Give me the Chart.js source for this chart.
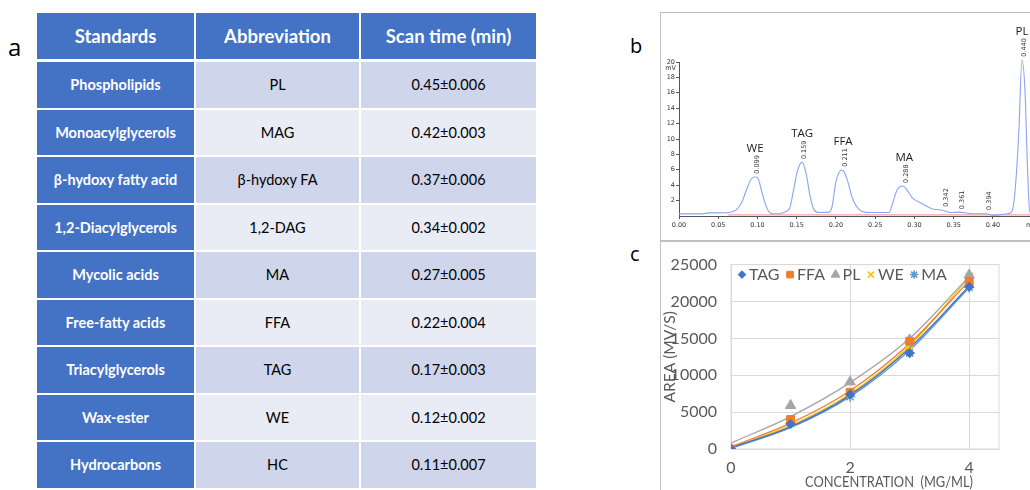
<!DOCTYPE html>
<html><head><meta charset="utf-8">
<script src="https://cdn.jsdelivr.net/npm/chart.js@4.4.0/dist/chart.umd.min.js"></script>
<style>
html,body{margin:0;padding:0;background:#fff;width:1030px;height:490px;overflow:hidden;position:relative;font-family:Lato,"Open Sans",sans-serif;}
.lbl{position:absolute;font-family:"Open Sans",Lato,sans-serif;color:#000;}
#tbl{position:absolute;left:37px;top:13px;}
.cell{position:absolute;display:flex;align-items:center;justify-content:center;box-sizing:border-box;}
.box{position:absolute;border:1.5px solid #BFBFBF;box-sizing:border-box;}
canvas{position:absolute;}
</style></head>
<body>
<div class="lbl" style="left:8px;top:30px;font-size:24px;">a</div>
<div class="lbl" style="left:630px;top:32px;font-size:20px;">b</div>
<div class="lbl" style="left:630px;top:240px;font-size:20px;">c</div>
<div id="tbl"></div>
<div class="box" style="left:660px;top:12px;width:400px;height:230px;"></div>
<div class="box" style="left:660px;top:240px;width:400px;height:260px;"></div>
<div style="position:absolute;left:660px;top:12px;width:400px;height:228px;"><canvas id="chromCanvas"></canvas></div>
<div style="position:absolute;left:661px;top:241px;width:369px;height:249px;"><canvas id="calCanvas"></canvas></div>
<script>
// ---------- Table (panel a) ----------
const tableHeaders = ["Standards", "Abbreviation", "Scan time (min)"];
const standards = ["Phospholipids","Monoacylglycerols","β-hydoxy fatty acid","1,2-Diacylglycerols","Mycolic acids","Free-fatty acids","Triacylglycerols","Wax-ester","Hydrocarbons"];
const abbreviations = ["PL","MAG","β-hydoxy FA","1,2-DAG","MA","FFA","TAG","WE","HC"];
const scanTimes = ["0.45±0.006","0.42±0.003","0.37±0.006","0.34±0.002","0.27±0.005","0.22±0.004","0.17±0.003","0.12±0.002","0.11±0.007"];

// ---------- Chromatogram (panel b) ----------
const chromTime   = [0.000,0.030,0.038,0.060,0.068,0.074,0.080,0.086,0.092,0.097,0.101,0.107,0.113,0.119,0.128,0.134,0.141,0.146,0.151,0.157,0.162,0.167,0.172,0.179,0.191,0.195,0.200,0.207,0.210,0.215,0.221,0.229,0.242,0.268,0.272,0.278,0.285,0.289,0.297,0.310,0.323,0.336,0.346,0.357,0.374,0.391,0.400,0.416,0.424,0.428,0.433,0.437,0.441,0.444,0.447,0.455];
const chromSignal = [0.27,0.28,0.40,0.42,0.55,0.9,1.8,3.4,4.8,5.1,4.8,2.6,0.8,0.3,0.3,0.5,1.0,3.4,5.9,7.0,5.5,2.6,0.8,0.45,0.5,1.2,4.5,5.95,5.8,4.5,2.3,0.9,0.45,0.45,1.6,3.4,3.9,3.6,2.4,1.6,0.9,0.75,0.45,0.5,0.3,0.3,0.1,0.25,0.55,3.0,10.8,20.3,16.0,6.5,0.5,0.3];
const baselineTime = [0.062, 0.46];
const baselineSignal = [0.15, 0.15];
const peakNames   = ["WE","TAG","FFA","MA","PL"];
const peakTimes   = [0.097,0.157,0.209,0.287,0.437];
const peakHeights = [5.1,7.0,6.0,3.9,20.3];
const rtLabels  = ["0.099","0.159","0.211","0.288","0.342","0.361","0.394","0.440"];
const rtTimes   = [0.097,0.157,0.209,0.287,0.338,0.358,0.392,0.437];
const rtHeights = [5.1,7.0,6.0,3.9,0.8,0.5,0.4,20.3];

// ---------- Calibration (panel c) ----------
const concentrations = [0,1,2,3,4];
const seriesNames = ["TAG","FFA","PL","WE","MA"];
const tagArea = [0,3400,7400,13000,22000];
const ffaArea = [0,4000,7700,14600,22700];
const plArea  = [0,5900,9100,14800,23600];
const weArea  = [0,3600,7500,13500,23400];
const maArea  = [0,3500,7100,13000,21900];
// trendline values at each concentration
const tagTrend = [200,3000,7300,13700,22100];
const ffaTrend = [300,3500,7900,14300,22800];
const plTrend  = [800,4400,9000,15000,23400];
const weTrend  = [200,3200,7500,14000,23300];
const maTrend  = [100,2900,7100,13400,21900];
const xTicks = [0,2,4];
const yTicks = [0,5000,10000,15000,20000,25000];

const NARROW = '"Liberation Sans Narrow", "Arial Narrow", Lato, sans-serif';

// build table
(function(){
  const t = document.getElementById('tbl');
  const colX = [0,159,324], colW = [159,165,175];
  const headH = 46, rowTop0 = 49, rowH = 47.5;
  tableHeaders.forEach((h,i)=>{
    const d=document.createElement('div');d.className='cell';
    d.style.cssText=`left:${colX[i]}px;top:0;width:${colW[i]}px;height:${headH}px;background:#4472C4;color:#fff;font-weight:700;font-size:18.5px;border-right:${i<2?2:0}px solid #fff;`;
    d.textContent=h;t.appendChild(d);
  });
  standards.forEach((s,r)=>{
    const vals=[s,abbreviations[r],scanTimes[r]];
    const bg = r%2===0 ? '#CFD5EA' : '#E9EBF5';
    vals.forEach((v,i)=>{
      const d=document.createElement('div');d.className='cell';
      const st = i===0 ? 'background:#4472C4;color:#fff;font-weight:700;' : `background:${bg};color:#000;`;
      d.style.cssText=`left:${colX[i]}px;top:${rowTop0+r*rowH}px;width:${colW[i]}px;height:${rowH}px;${st}font-size:14.5px;border-right:${i<2?2:0}px solid #fff;border-bottom:2px solid #fff;`;
      d.textContent=v;t.appendChild(d);
    });
  });
})();

// chromatogram
const chromData = chromTime.map((t,i)=>({x:t,y:chromSignal[i]}));
const baseData = baselineTime.map((t,i)=>({x:t,y:baselineSignal[i]}));
const chromLabels = {
  id:'chromLabels',
  afterDatasetsDraw(chart){
    const {ctx, scales:{x,y}} = chart;
    ctx.save();
    ctx.fillStyle='#222';
    ctx.font='11.5px "Open Sans", Lato, sans-serif';
    ctx.textAlign='center';ctx.textBaseline='alphabetic';
    peakNames.forEach((n,i)=>{
      ctx.fillText(n, x.getPixelForValue(peakTimes[i]), y.getPixelForValue(peakHeights[i]) - 25);
    });
    ctx.font='6.5px "DejaVu Sans", sans-serif';ctx.fillStyle='#333';
    rtLabels.forEach((l,i)=>{
      ctx.save();
      ctx.translate(x.getPixelForValue(rtTimes[i])+2.5, y.getPixelForValue(rtHeights[i]) - 3);
      ctx.rotate(-Math.PI/2);
      ctx.textAlign='left';ctx.textBaseline='middle';
      ctx.fillText(l,0,0);
      ctx.restore();
    });
    ctx.font='6.5px "DejaVu Sans", sans-serif';ctx.textAlign='right';
    ctx.fillText('mV', x.left-3, y.getPixelForValue(20)+8);
    ctx.restore();
  }
};
new Chart(document.getElementById('chromCanvas'),{
  type:'line',
  data:{datasets:[
    {data:chromData,borderColor:'#8AA3F5',borderWidth:1.1,pointRadius:0,cubicInterpolationMode:'monotone',clip:false,fill:false},
    {data:baseData,borderColor:'rgba(240,130,130,0.75)',borderWidth:1.2,pointRadius:0,fill:false}
  ]},
  options:{
    responsive:true,maintainAspectRatio:false,animation:false,
    layout:{padding:{top:50,right:20,left:0,bottom:0}},
    plugins:{legend:{display:false},tooltip:{enabled:false}},
    scales:{
      x:{type:'linear',min:0,max:0.46,
        afterBuildTicks:s=>{s.ticks=[0,0.05,0.1,0.15,0.2,0.25,0.3,0.35,0.4,0.45].map(v=>({value:v}));},
        afterFit:s=>{s.height=24;},
        grid:{drawOnChartArea:false,tickLength:3,color:'#555'},
        border:{color:'#555',width:1},
        ticks:{font:{size:6.5,family:'"DejaVu Sans", sans-serif'},color:'#333',maxRotation:0,padding:2,
          callback:v=> v>0.42 ? 'min' : v.toFixed(2)}},
      y:{type:'linear',min:0,max:20,
        afterBuildTicks:s=>{s.ticks=[2,4,6,8,10,12,14,16,18,20].map(v=>({value:v}));},
        afterFit:s=>{s.width=19;},
        grid:{drawOnChartArea:false,tickLength:3,color:'#555'},
        border:{color:'#555',width:1},
        ticks:{font:{size:6.5,family:'"DejaVu Sans", sans-serif'},color:'#333',padding:1}}
    }
  },
  plugins:[chromLabels]
});

// calibration chart
const colors = {TAG:'#4472C4',FFA:'#ED7D31',PL:'#A5A5A5',WE:'#FFC000',MA:'#5B9BD5'};
const styles = {TAG:['rectRot',4.5],FFA:['rect',5.5],PL:['triangle',6],WE:['crossRot',5],MA:['star',5]};
const areas = [tagArea,ffaArea,plArea,weArea,maArea];
const trends = [tagTrend,ffaTrend,plTrend,weTrend,maTrend];
const calDatasets = [];
seriesNames.forEach((n,i)=>{
  calDatasets.push({type:'line',label:n+' trend',data:concentrations.map((c,j)=>({x:c,y:trends[i][j]})),
    borderColor:colors[n],borderWidth:1.3,pointRadius:0,cubicInterpolationMode:'monotone',fill:false,order:2});
});
seriesNames.forEach((n,i)=>{
  calDatasets.push({type:'scatter',label:n,data:concentrations.map((c,j)=>({x:c,y:areas[i][j]})),
    pointStyle:styles[n][0],pointRadius:styles[n][1],backgroundColor:colors[n],borderColor:colors[n],borderWidth:n==='WE'||n==='MA'?1.5:1,order:1});
});
const calExtras = {
  id:'calExtras',
  beforeDatasetsDraw(chart){
    const {ctx,chartArea:a}=chart;
    ctx.save();ctx.strokeStyle='#D9D9D9';ctx.lineWidth=1;
    ctx.strokeRect(a.left,a.top,a.right-a.left,a.bottom-a.top);ctx.restore();
  },
  afterDraw(chart){
    const {ctx,chartArea:a}=chart;
    ctx.save();
    ctx.font='16px '+NARROW;ctx.textBaseline='middle';ctx.textAlign='left';
    let xx=a.left+11; const yy=a.top+10;
    seriesNames.forEach(n=>{
      const ds = chart.data.datasets.find(d=>d.label===n);
      ctx.fillStyle=colors[n];ctx.strokeStyle=colors[n];ctx.lineWidth=ds.borderWidth;
      Chart.helpers.drawPoint(ctx,{pointStyle:styles[n][0],radius:styles[n][1]*0.85,borderWidth:ds.borderWidth},xx,yy);
      ctx.fillStyle='#595959';ctx.textAlign='left';
      ctx.fillText(n,xx+7,yy);
      xx += 7 + ctx.measureText(n).width + 10.5;
    });
    // x-axis title: condensed face as in the reference, slightly right of centre
    ctx.textAlign='center';ctx.textBaseline='alphabetic';ctx.fillStyle='#595959';
    ctx.font='16px '+NARROW;
    const w = ctx.measureText('CONCENTRATION  (MG/ML)').width;
    const sx = Math.min(1, 168 / w);
    ctx.translate((a.left+a.right)/2+24, chart.height-3);
    ctx.scale(sx,1);
    ctx.fillText('CONCENTRATION  (MG/ML)', 0, 0);
    ctx.restore();
  }
};
new Chart(document.getElementById('calCanvas'),{
  data:{datasets:calDatasets},
  options:{
    responsive:true,maintainAspectRatio:false,animation:false,
    layout:{padding:{top:14,right:31,left:0,bottom:0}},
    plugins:{legend:{display:false},tooltip:{enabled:false}},
    scales:{
      x:{type:'linear',min:0,max:4.5,
        afterBuildTicks:s=>{s.ticks=xTicks.map(v=>({value:v}));},
        afterFit:s=>{s.height=41;},
        grid:{color:'#D9D9D9',drawTicks:false},border:{color:'#D9D9D9'},
        ticks:{font:{size:16,family:NARROW},color:'#595959',padding:9,callback:v=>String(v)}},
      y:{type:'linear',min:0,max:25000,
        afterBuildTicks:s=>{s.ticks=yTicks.map(v=>({value:v}));},
        afterFit:s=>{s.width=70;},
        grid:{color:'#D9D9D9',drawTicks:false},border:{color:'#D9D9D9'},
        ticks:{font:{size:16,family:NARROW},color:'#595959',padding:14,callback:v=>String(v)},
        title:{display:true,text:'AREA (MV/S)',font:{size:15.5,family:NARROW},color:'#595959',padding:{top:0,bottom:0}}}
    }
  },
  plugins:[calExtras]
});
</script>
</body></html>
